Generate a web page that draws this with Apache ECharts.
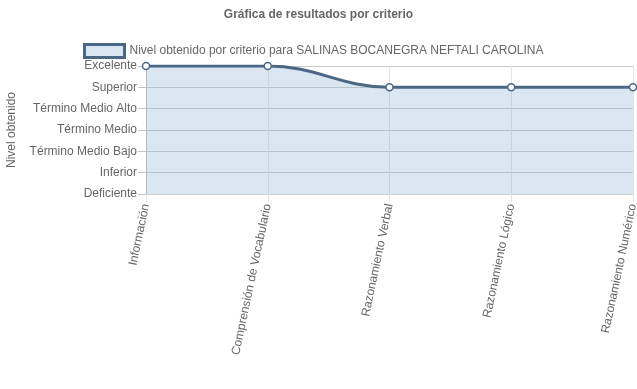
<!DOCTYPE html>
<html>
<head>
<meta charset="utf-8">
<script src="https://cdn.jsdelivr.net/npm/echarts@6/dist/echarts.min.js"></script>
<style>
  html, body { margin: 0; padding: 0; background: #fff; }
  #chart { width: 637px; height: 389px; }
</style>
</head>
<body>
<div id="chart"></div>
<script>
const criterios = [
  "Información",
  "Comprensión de Vocabulario",
  "Razonamiento Verbal",
  "Razonamiento Lógico",
  "Razonamiento Numérico",
];
const niveles = [
  "",
  "Deficiente",
  "Inferior",
  "Término Medio Bajo",
  "Término Medio",
  "Término Medio Alto",
  "Superior",
  "Excelente",
];
const puntajes = [7, 7, 6, 6, 6];
const serieNombre = "Nivel obtenido por criterio para SALINAS BOCANEGRA NEFTALI CAROLINA";

const lineColor = "#4a6784";
const fillColor = "rgba(149, 186, 221, 0.35)";
const textColor = "#666";
const font = "Liberation Sans, Arial, sans-serif";

const chart = echarts.init(document.getElementById("chart"));

chart.setOption({
  animation: false,
  textStyle: { fontFamily: font },
  title: {
    text: "Gráfica de resultados por criterio",
    left: "center",
    top: 9,
    padding: 0,
    textStyle: { fontSize: 12, fontWeight: "bold", color: textColor, fontFamily: font },
  },
  legend: {
    data: [serieNombre],
    left: 83,
    top: 43,
    padding: 0,
    itemWidth: 40,
    itemHeight: 13,
    itemGap: 6,
    icon: "rect",
    itemStyle: { color: "#dae7f3", borderColor: lineColor, borderWidth: 3 },
    textStyle: { fontSize: 12, color: textColor, fontFamily: font },
  },
  grid: {
    left: 146,
    right: 4,
    top: 66,
    bottom: 195,
    containLabel: false,
    outerBoundsMode: "none",
  },
  xAxis: {
    type: "category",
    data: criterios,
    boundaryGap: false,
    axisLine: { show: true, lineStyle: { color: "#cfcfcf", width: 1 } },
    axisTick: { show: true, length: 8, lineStyle: { color: "#e3e3e3" } },
    splitLine: { show: true, lineStyle: { color: "#e3e3e3", width: 1 } },
    axisLabel: {
      rotate: 78,
      margin: 10,
      color: textColor,
      fontSize: 12,
      fontFamily: font,
    },
  },
  yAxis: {
    type: "value",
    min: 1,
    max: 7,
    interval: 1,
    name: "Nivel obtenido",
    nameLocation: "middle",
    nameGap: 128,
    nameTextStyle: { color: textColor, fontSize: 12, fontFamily: font },
    axisLine: { show: true, lineStyle: { color: "#bdbdbd" } },
    axisTick: { show: true, length: 8, lineStyle: { color: "#c4c4c4" } },
    splitLine: { show: true, lineStyle: { color: "#c8c8c8", width: 1 } },
    axisLabel: {
      margin: 9,
      color: textColor,
      fontSize: 12,
      fontFamily: font,
      formatter: (v) => niveles[v] || "",
    },
  },
  series: [
    {
      name: serieNombre,
      type: "line",
      data: puntajes,
      smooth: 0.4,
      symbol: "circle",
      symbolSize: 7,
      lineStyle: { color: lineColor, width: 3 },
      itemStyle: { color: "#fff", borderColor: lineColor, borderWidth: 1.5 },
      areaStyle: { color: fillColor, opacity: 1, origin: "start" },
    },
  ],
});
</script>
</body>
</html>
